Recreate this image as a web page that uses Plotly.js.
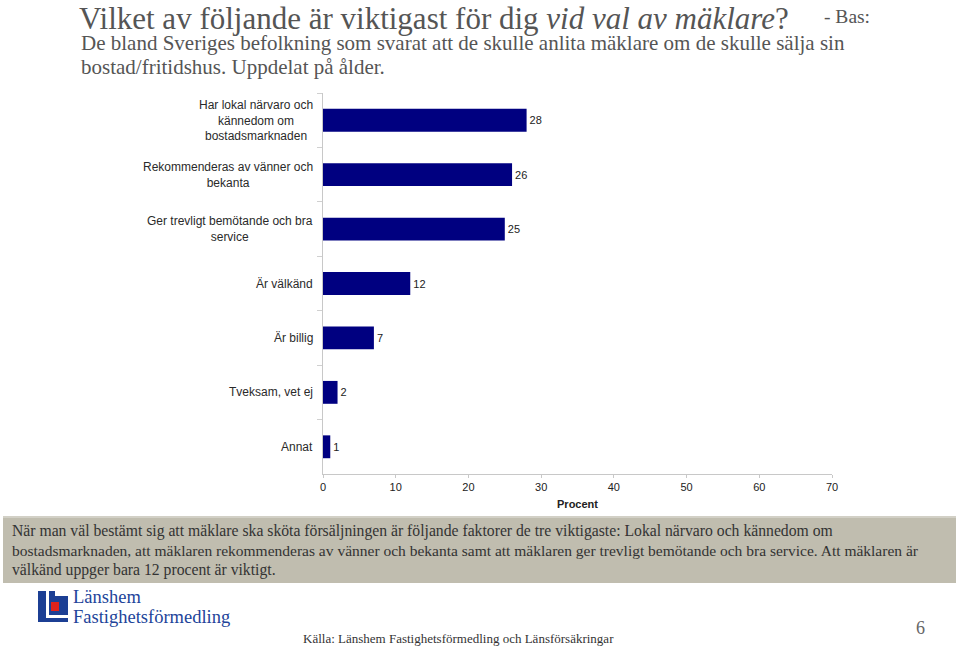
<!DOCTYPE html>
<html>
<head>
<meta charset="utf-8">
<script src="https://cdn.plot.ly/plotly-3.0.1.min.js"></script>
<style>html,body{margin:0;padding:0;background:#fff;}#chart{width:959px;height:647px;}</style>
</head>
<body>
<div id="chart"></div>
<script>
const categories = [
  "Har lokal närvaro och<br>kännedom om<br>bostadsmarknaden",
  "Rekommenderas av vänner och<br>bekanta",
  "Ger trevligt bemötande och bra<br>service",
  "Är välkänd",
  "Är billig",
  "Tveksam, vet ej",
  "Annat"
];
const values = [28, 26, 25, 12, 7, 2, 1];
const xTicks = [0, 10, 20, 30, 40, 50, 60, 70];

const W = 959, H = 647;
const M = {l: 323, r: 127, t: 93, b: 173};
const PW = W - M.l - M.r, PH = H - M.t - M.b;
const px = x => (x - M.l) / PW;
const py = y => 1 - (y - M.t) / PH;

const serif = "Liberation Serif, Times New Roman, serif";
const sans = "Liberation Sans, Arial, sans-serif";

function ann(text, x, y, size, color, opts) {
  return Object.assign({
    text: text, xref: 'paper', yref: 'paper', x: px(x), y: py(y),
    xanchor: 'left', yanchor: 'middle', showarrow: false,
    font: {family: serif, size: size, color: color}, align: 'left'
  }, opts || {});
}

const annotations = [
  ann("Vilket av följande är viktigast för dig <i>vid val av mäklare</i>?", 78, 0, 31, '#555555', {yanchor: 'top', borderpad: 0}),
  ann("- Bas:", 822, 16, 19.5, '#555555'),
  ann("De bland Sveriges befolkning som svarat att de skulle anlita mäklare om de skulle sälja sin", 79, 43, 21, '#555555'),
  ann("bostad/fritidshus. Uppdelat på ålder.", 79, 67, 21, '#555555'),
  ann("När man väl bestämt sig att mäklare ska sköta försäljningen är följande faktorer de tre viktigaste: Lokal närvaro och kännedom om", 10, 531, 15.7, '#333333'),
  ann("bostadsmarknaden, att mäklaren rekommenderas av vänner och bekanta samt att mäklaren ger trevligt bemötande och bra service. Att mäklaren är", 10, 550, 15.5, '#333333'),
  ann("välkänd uppger bara 12 procent är viktigt.", 10, 570, 15.7, '#333333'),
  ann("Länshem", 71, 597, 18.5, '#22449a'),
  ann("Fastighetsförmedling", 71, 617, 18.5, '#22449a'),
  ann("6", 920, 628, 18, '#666666', {xanchor: 'center'}),
  ann("Källa: Länshem Fastighetsförmedling och Länsförsäkringar", 458, 638, 13, '#333333', {xanchor: 'center'})
];

// category labels, centre-aligned, placed on the category axis
categories.forEach(c => {
  annotations.push({
    text: c, xref: 'paper', yref: 'y', x: px(315), y: c,
    xanchor: 'right', yanchor: 'middle', showarrow: false, align: 'center',
    font: {family: sans, size: 12, color: '#2a2a2a'}
  });
});

function rect(x0, y0, x1, y1, fill) {
  return {type: 'rect', xref: 'paper', yref: 'paper', x0: px(x0), x1: px(x1), y0: py(y1), y1: py(y0),
    fillcolor: fill, line: {width: 0}, layer: 'below'};
}

const shapes = [
  rect(3, 516, 956, 583, '#c0bdaf'),
  rect(3, 516, 956, 518, '#d2d0c6'),
  rect(38, 591, 68, 622, '#1c3f94'),
  rect(46, 591, 49, 617, '#ffffff'),
  rect(46, 615, 68, 618, '#ffffff'),
  rect(55, 591, 68, 596, '#ffffff'),
  rect(51, 602, 59, 611, '#e0221b')
];
shapes.slice(2).forEach(s => s.layer = 'above');

const trace = {
  type: 'bar', orientation: 'h', y: categories, x: values,
  marker: {color: '#000080', line: {width: 0}},
  text: values.map(String), textposition: 'outside',
  textfont: {family: sans, size: 11, color: '#222222'},
  cliponaxis: false, hoverinfo: 'skip'
};

const layout = {
  width: W, height: H,
  margin: M,
  paper_bgcolor: '#ffffff', plot_bgcolor: '#ffffff',
  showlegend: false,
  bargap: 0.58,
  font: {family: sans, size: 12, color: '#222222'},
  xaxis: {
    range: [0, 70], tickvals: xTicks, ticktext: xTicks.map(String),
    showgrid: false, zeroline: false, showline: true, linecolor: '#c8c8c8', linewidth: 1,
    ticks: 'outside', ticklen: 3, tickcolor: '#c8c8c8',
    tickfont: {family: sans, size: 11, color: '#222222'},
    title: {text: '<b>Procent</b>', font: {family: sans, size: 11, color: '#222222'}, standoff: 8},
    fixedrange: true
  },
  yaxis: {
    type: 'category', autorange: 'reversed',
    showgrid: false, zeroline: false, showline: true, linecolor: '#c8c8c8', linewidth: 1,
    ticks: 'outside', ticklen: 5, tickcolor: '#d0d0d0', tickson: 'boundaries',
    showticklabels: false,
    fixedrange: true
  },
  annotations: annotations,
  shapes: shapes
};

Plotly.newPlot('chart', [trace], layout, {displayModeBar: false, staticPlot: true});
</script>
</body>
</html>
